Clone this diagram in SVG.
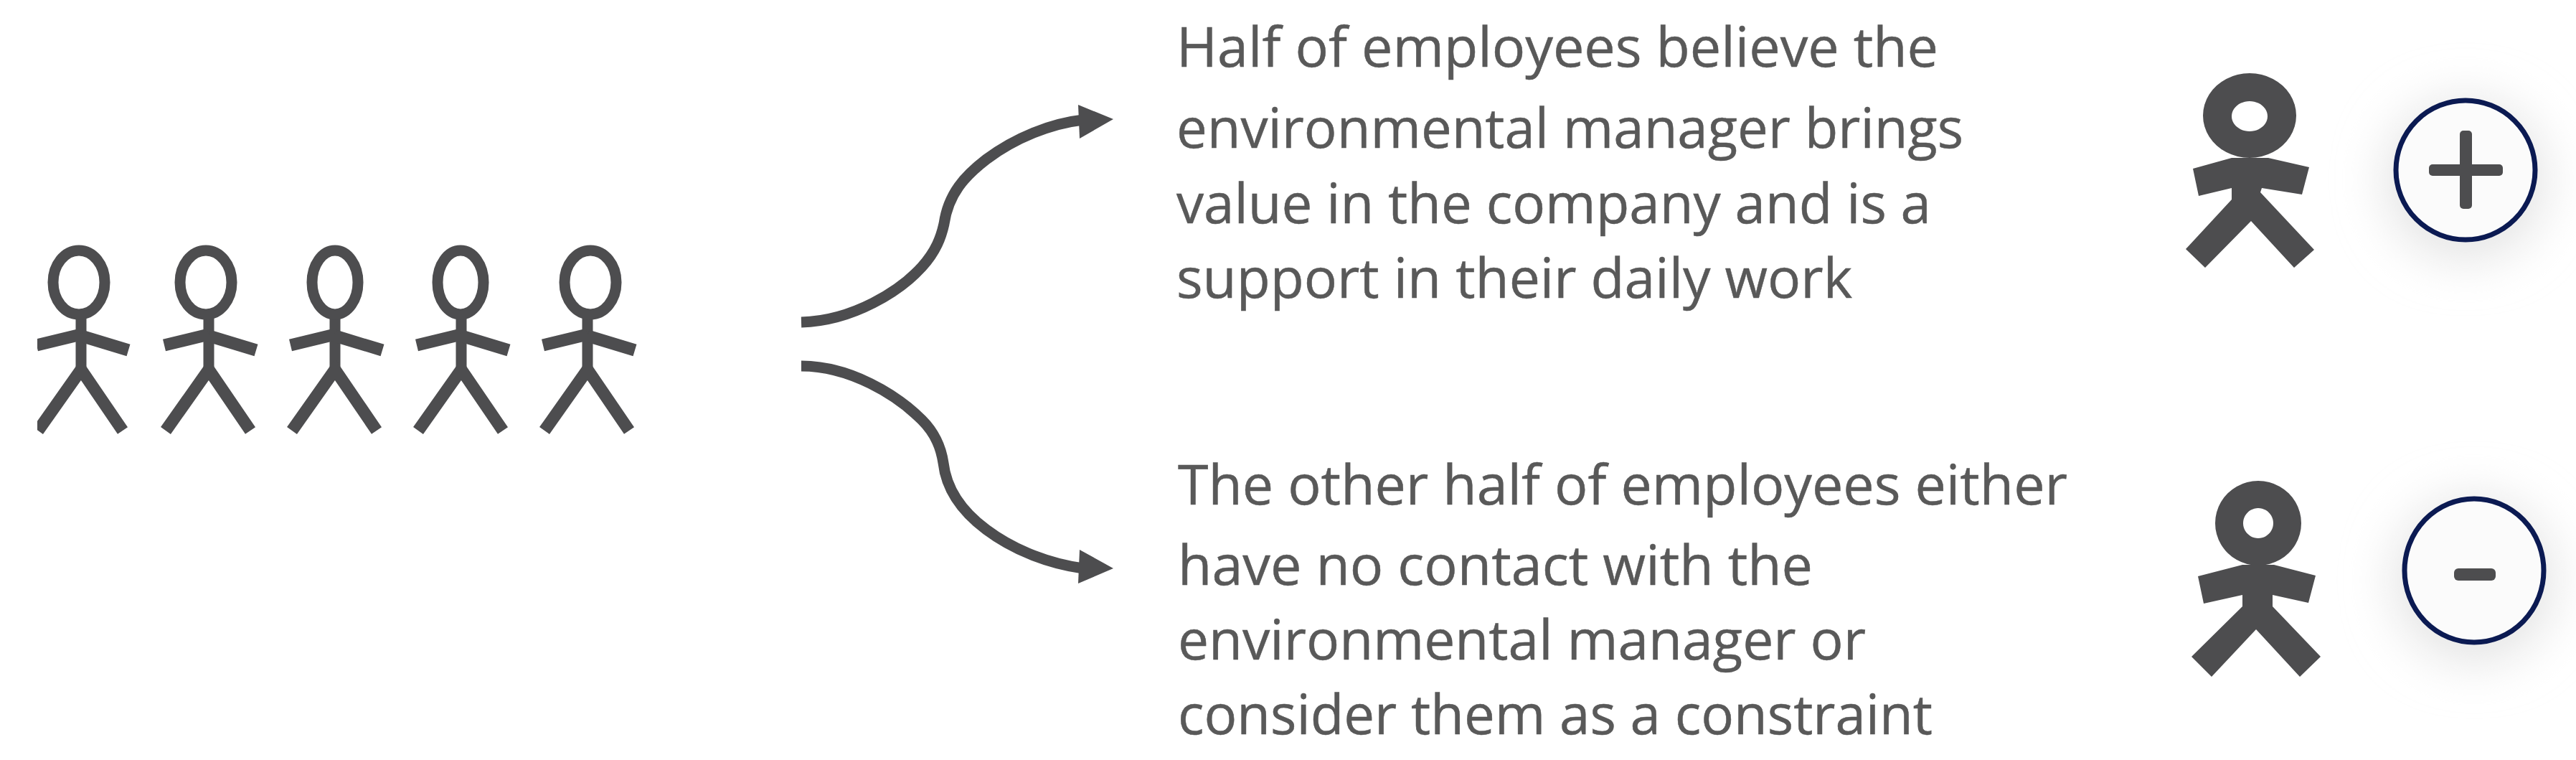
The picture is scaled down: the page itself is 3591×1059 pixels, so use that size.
<svg xmlns="http://www.w3.org/2000/svg" width="3591" height="1059" viewBox="0 0 3591 1059">
<defs>
<style>
.bg{fill:#fff}
.t{font-family:"Open Sans","Noto Sans",sans-serif;font-size:77px;fill:#595959;stroke:#595959;stroke-width:.5}
.ink{fill:#4d4d4f}
.line{fill:none;stroke:#4d4d4f;stroke-width:15}
.stick{fill:none;stroke:#4d4d4f}
.head{fill:none;stroke:#4d4d4f;stroke-width:15}
.ring{fill:#fbfbfb;stroke:#0b1a52;stroke-width:7}
.glow{fill:#e4e4e4}
</style>
<filter id="soft" x="-60%" y="-60%" width="220%" height="220%"><feGaussianBlur stdDeviation="34"/></filter>
<clipPath id="cl"><rect x="52" y="300" width="900" height="340"/></clipPath>
<g id="stickman">
<path class="stick" stroke-width="15" d="M0 -80V0"/>
<path class="stick" stroke-width="17" d="M0 -51L-62 -36M0 -49L66 -29"/>
<path class="stick" stroke-width="17" stroke-linejoin="miter" d="M-60 83L0 -2L58 83"/>
</g>
</defs>
<rect class="bg" width="3591" height="1059"/>
<g id="crowd" clip-path="url(#cl)">
<use href="#stickman" x="113" y="517"/><ellipse class="head" cx="110" cy="393.5" rx="36" ry="44.5"/>
<use href="#stickman" x="291" y="517"/><ellipse class="head" cx="287" cy="393.5" rx="36" ry="44.5"/>
<use href="#stickman" x="467" y="517"/><ellipse class="head" cx="467" cy="393.5" rx="32" ry="44.5"/>
<use href="#stickman" x="643" y="517"/><ellipse class="head" cx="642" cy="393.5" rx="32" ry="44.5"/>
<use href="#stickman" x="819" y="517"/><ellipse class="head" cx="823" cy="393.5" rx="36" ry="44.5"/>
</g>
<g id="connectors">
<path class="line" d="M1117 449C1190 447 1255 405 1285 372C1305 350 1312 330 1316 312C1322 270 1345 245 1375 222C1415 192 1465 172 1510 167"/>
<path class="ink" d="M1503 146L1552 166L1505 193Z"/>
<path class="line" d="M1117 510C1185 510 1250 550 1285 585C1305 605 1312 625 1315 645C1319 680 1340 712 1375 738C1415 768 1465 786 1510 792"/>
<path class="ink" d="M1505 766L1552 792L1503 813Z"/>
</g>
<g id="text-positive">
<text class="t" x="1640" y="93" textLength="1062" lengthAdjust="spacingAndGlyphs">Half of employees believe the</text>
<text class="t" x="1640" y="206" textLength="1097" lengthAdjust="spacingAndGlyphs">environmental manager brings</text>
<text class="t" x="1640" y="311" textLength="1052" lengthAdjust="spacingAndGlyphs">value in the company and is a</text>
<text class="t" x="1640" y="415" textLength="942" lengthAdjust="spacingAndGlyphs">support in their daily work</text>
</g>
<g id="text-negative">
<text class="t" x="1642" y="703" textLength="1240" lengthAdjust="spacingAndGlyphs">The other half of employees either</text>
<text class="t" x="1642" y="815" textLength="885" lengthAdjust="spacingAndGlyphs">have no contact with the</text>
<text class="t" x="1642" y="919" textLength="959" lengthAdjust="spacingAndGlyphs">environmental manager or</text>
<text class="t" x="1642" y="1023" textLength="1052" lengthAdjust="spacingAndGlyphs">consider them as a constraint</text>
</g>
<g id="person-plus">
<path class="ink" fill-rule="evenodd" d="M3136 102a65 59 0 1 0 .01 0ZM3136 141a25 21 0 1 1 -.01 0Z"/>
<path class="ink" d="M3057 235L3111 220H3162L3219 233L3209 271L3153 262L3151 268L3226 348L3198 373L3138 308L3074 373L3047 347L3111 278V262L3065 273Z"/>
</g>
<g id="badge-plus">
<ellipse class="glow" cx="3437" cy="250" rx="112" ry="112" filter="url(#soft)"/>
<ellipse class="ring" cx="3437" cy="237" rx="97" ry="97"/>
<rect class="ink" x="3386" y="229" width="103" height="16" rx="5"/>
<rect class="ink" x="3429" y="182" width="17" height="109" rx="5"/>
</g>
<g id="person-minus">
<path class="ink" fill-rule="evenodd" d="M3148 670a60 59 0 1 0 .01 0ZM3148 708a21 21 0 1 1 -.01 0Z"/>
<path class="ink" d="M3064 803L3126 787H3170L3228 802L3218 840L3168 829L3168 845L3235 915L3206 943L3145 877L3083 943L3055 915L3126 845V829L3072 841Z"/>
</g>
<g id="badge-minus">
<ellipse class="glow" cx="3449" cy="808" rx="112" ry="115" filter="url(#soft)"/>
<ellipse class="ring" cx="3449" cy="795" rx="97" ry="100"/>
<rect class="ink" x="3421" y="792" width="58" height="17" rx="6"/>
</g>
</svg>
